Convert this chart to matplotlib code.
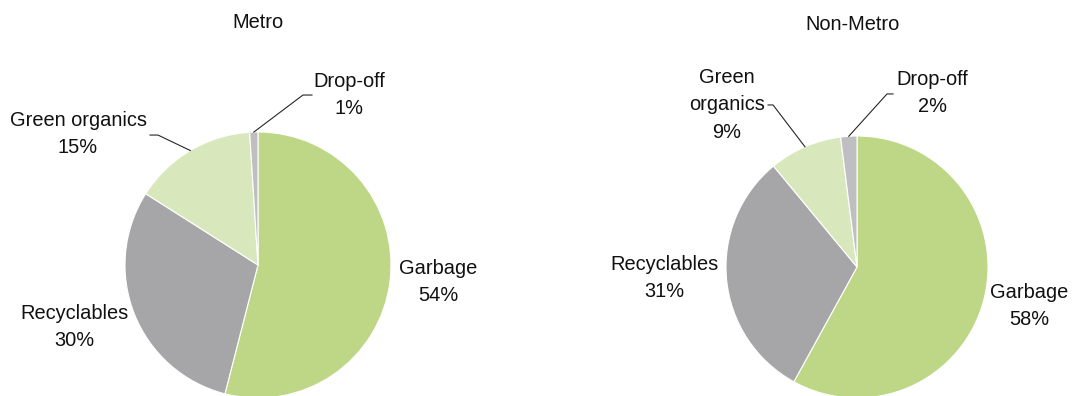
import numpy as np
import matplotlib
matplotlib.use('Agg')
import matplotlib.pyplot as plt

plt.rcParams['font.family'] = ['Liberation Sans', 'DejaVu Sans']

categories = ['Garbage', 'Recyclables', 'Green organics', 'Drop-off']
metro = [54, 30, 15, 1]
non_metro = [58, 31, 9, 2]
titles = ['Metro', 'Non-Metro']

colors = ['#bdd786', '#a6a6a8', '#d9e8bc', '#bfbfc1']
W, H = 1074, 396
FS = 14.4

fig = plt.figure(figsize=(W / 100, H / 100), dpi=100)

# pie centre (px), radius (px), label offsets in pie units, leader polylines
layouts = [
    dict(cx=258, cy=265, r=133,
         names=['Garbage', 'Recyclables', 'Green organics', 'Drop-off'],
         labels=[(1.353, -0.128), (-1.383, -0.466), (-1.353, 0.985), (0.684, 1.278)],
         leaders={2: [(-0.752, 0.977), (-0.812, 0.977)],
                  3: [(0.338, 1.278), (0.406, 1.278)]},
         title=(0.0, 1.82)),
    dict(cx=857, cy=267, r=131,
         names=['Garbage', 'Recyclables', 'Green\norganics', 'Drop-off'],
         labels=[(1.313, -0.298), (-1.473, -0.084), (-0.992, 1.237), (0.573, 1.328)],
         leaders={2: [(-0.641, 1.237), (-0.679, 1.237)],
                  3: [(0.229, 1.321), (0.275, 1.321)]},
         title=(-0.038, 1.85)),
]

for vals, title, lay in zip([metro, non_metro], titles, layouts):
    r = lay['r']
    ax = fig.add_axes([(lay['cx'] - r) / W, (H - lay['cy'] - r) / H, 2 * r / W, 2 * r / H])
    wedges, _ = ax.pie(vals, colors=colors, startangle=90, counterclock=False,
                       radius=1, wedgeprops=dict(edgecolor='white', linewidth=0.8))
    ax.set_xlim(-1, 1)
    ax.set_ylim(-1, 1)
    ax.set_aspect('equal', adjustable='box')
    ax.axis('off')
    for w in wedges:
        w.set_clip_on(False)

    for i, (w, v, name) in enumerate(zip(wedges, vals, lay['names'])):
        lx, ly = lay['labels'][i]
        ax.text(lx, ly, f'{name}\n{v}%', ha='center', va='center', fontsize=FS,
                color='#111111', linespacing=1.55, clip_on=False)
        if i in lay['leaders']:
            mid = np.deg2rad((w.theta1 + w.theta2) / 2)
            pts = [(np.cos(mid), np.sin(mid))] + lay['leaders'][i]
            xs, ys = zip(*pts)
            ax.plot(xs, ys, color='#262626', lw=0.8, clip_on=False)

    tx, ty = lay['title']
    ax.text(tx, ty, title, ha='center', va='center', fontsize=FS, color='#111111', clip_on=False)

fig.savefig('out.png', dpi=100)
